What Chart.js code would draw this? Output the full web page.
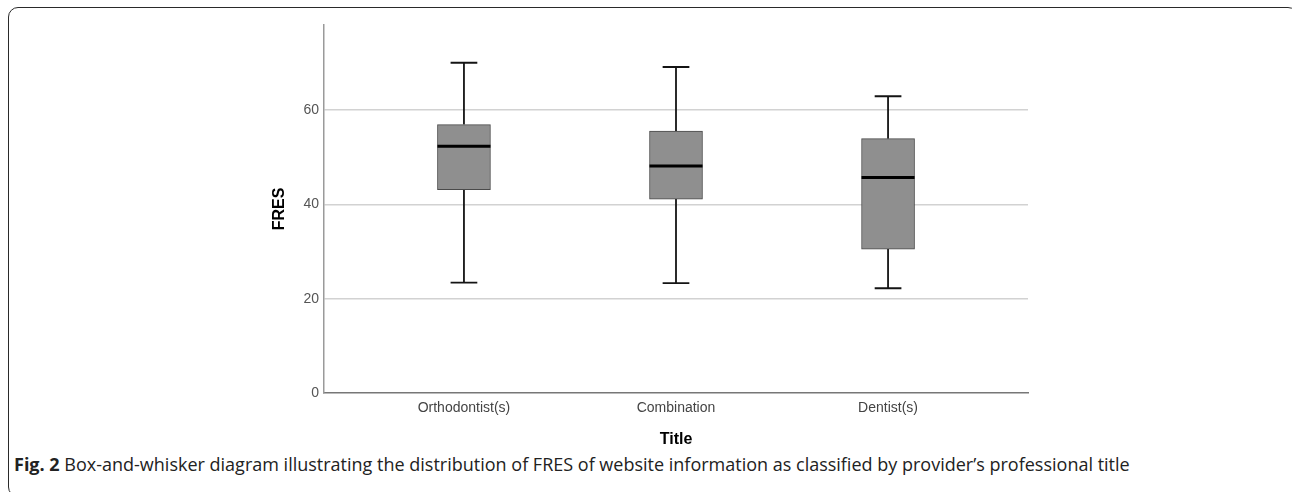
<!DOCTYPE html>
<html>
<head>
<meta charset="utf-8">
<script src="https://cdn.jsdelivr.net/npm/chart.js@4/dist/chart.umd.min.js"></script>
<style>
  html, body { margin: 0; padding: 0; background: #fff; }
  body { width: 1292px; height: 492px; position: relative; overflow: hidden; }
  #frame {
    position: absolute; left: 8px; top: 7px; width: 1290px; height: 490px;
    border: 1.5px solid #2a2a2a; border-radius: 10px; box-sizing: border-box;
  }
  #chart { position: absolute; left: 0; top: 0; }
  #caption {
    position: absolute; left: 14px; top: 452px; white-space: nowrap;
    font-family: "Open Sans", sans-serif; font-size: 18px; color: #222;
  }
  #caption b { font-weight: 700; }
</style>
</head>
<body>
<div id="frame"></div>
<canvas id="chart" width="1292" height="449"></canvas>
<div id="caption"><b>Fig. 2</b> Box-and-whisker diagram illustrating the distribution of FRES of website information as classified by provider’s professional title</div>
<script>
// Values
const CATEGORIES = ['Orthodontist(s)', 'Combination', 'Dentist(s)'];
const WHISKER_LOW = [23.4, 23.3, 22.2];
const Q1 = [43.1, 41.1, 30.5];
const MEDIAN = [52.3, 48.1, 45.7];
const Q3 = [56.9, 55.5, 53.9];
const WHISKER_HIGH = [70.0, 69.1, 62.9];
const Y_TICKS = [0, 20, 40, 60];
const Y_MAX = 78;

const CAP_HALF = 0.063;   // whisker cap half-width, in category units
const BOX_HALF = 0.125;   // box half-width, in category units

// Builds a point list for several separate segments, split by gaps
function segments(list) {
  const pts = [];
  list.forEach(seg => {
    pts.push(seg[0], seg[1], { x: seg[1].x, y: null });
  });
  return pts;
}

const whiskerPts = segments(CATEGORIES.flatMap((c, i) => [
  [{ x: i, y: WHISKER_LOW[i] }, { x: i, y: Q1[i] }],
  [{ x: i, y: Q3[i] }, { x: i, y: WHISKER_HIGH[i] }]
]));
const capPts = segments(CATEGORIES.flatMap((c, i) => [
  [{ x: i - CAP_HALF, y: WHISKER_LOW[i] }, { x: i + CAP_HALF, y: WHISKER_LOW[i] }],
  [{ x: i - CAP_HALF, y: WHISKER_HIGH[i] }, { x: i + CAP_HALF, y: WHISKER_HIGH[i] }]
]));
const medianPts = segments(CATEGORIES.map((c, i) =>
  [{ x: i - BOX_HALF, y: MEDIAN[i] }, { x: i + BOX_HALF, y: MEDIAN[i] }]
));

const lineStyle = {
  type: 'line', pointRadius: 0, pointHoverRadius: 0, spanGaps: false,
  fill: false, tension: 0
};

const tickFont = { family: '"Liberation Sans", Arial, sans-serif', size: 14 };
const titleFont = { family: '"Liberation Sans", Arial, sans-serif', size: 16, weight: 'bold', lineHeight: 1.2 };

document.addEventListener('DOMContentLoaded', () => {
  const ctx = document.getElementById('chart').getContext('2d');
  new Chart(ctx, {
    type: 'bar',
    data: {
      datasets: [
        {
          label: 'Median', data: medianPts, ...lineStyle,
          borderColor: '#000', borderWidth: 3, order: 0
        },
        {
          label: 'IQR', data: CATEGORIES.map((c, i) => ({ x: i, y: [Q1[i], Q3[i]] })),
          backgroundColor: '#8f8f8f', borderColor: '#4a4a4a', borderWidth: 1,
          borderSkipped: false, barThickness: 53, order: 1
        },
        {
          label: 'Whiskers', data: whiskerPts, ...lineStyle,
          borderColor: '#141414', borderWidth: 1.8, order: 2
        },
        {
          label: 'Caps', data: capPts, ...lineStyle,
          borderColor: '#141414', borderWidth: 1.8, order: 2
        }
      ]
    },
    options: {
      responsive: false,
      animation: false,
      events: [],
      layout: { padding: { left: 270, right: 264, top: 25, bottom: 0 } },
      plugins: { legend: { display: false }, tooltip: { enabled: false } },
      scales: {
        x: {
          type: 'linear',
          min: -0.66, max: 2.66,
          offset: false,
          afterFit: scale => { scale.height = 56; },
          afterBuildTicks: scale => { scale.ticks = CATEGORIES.map((c, i) => ({ value: i })); },
          grid: { display: false, drawTicks: false },
          border: { display: true, color: '#777', width: 1.5 },
          ticks: {
            autoSkip: false, maxRotation: 0, padding: 7,
            color: '#444', font: tickFont,
            callback: v => CATEGORIES[v]
          },
          title: { display: true, text: 'Title', color: '#000', font: titleFont, padding: 0 }
        },
        y: {
          min: 0, max: Y_MAX,
          afterFit: scale => { scale.width = 54; },
          afterBuildTicks: scale => { scale.ticks = Y_TICKS.map(v => ({ value: v })); },
          grid: {
            drawTicks: false, lineWidth: 1.5,
            color: c => (c.tick && c.tick.value === 0 ? 'rgba(0,0,0,0)' : '#d2d2d2')
          },
          border: { display: true, color: '#9a9a9a', width: 1.5 },
          ticks: { padding: 5, color: '#555', font: tickFont },
          title: { display: true, text: 'FRES', color: '#000', font: titleFont, padding: 0 }
        }
      }
    }
  });
});
</script>
</body>
</html>
